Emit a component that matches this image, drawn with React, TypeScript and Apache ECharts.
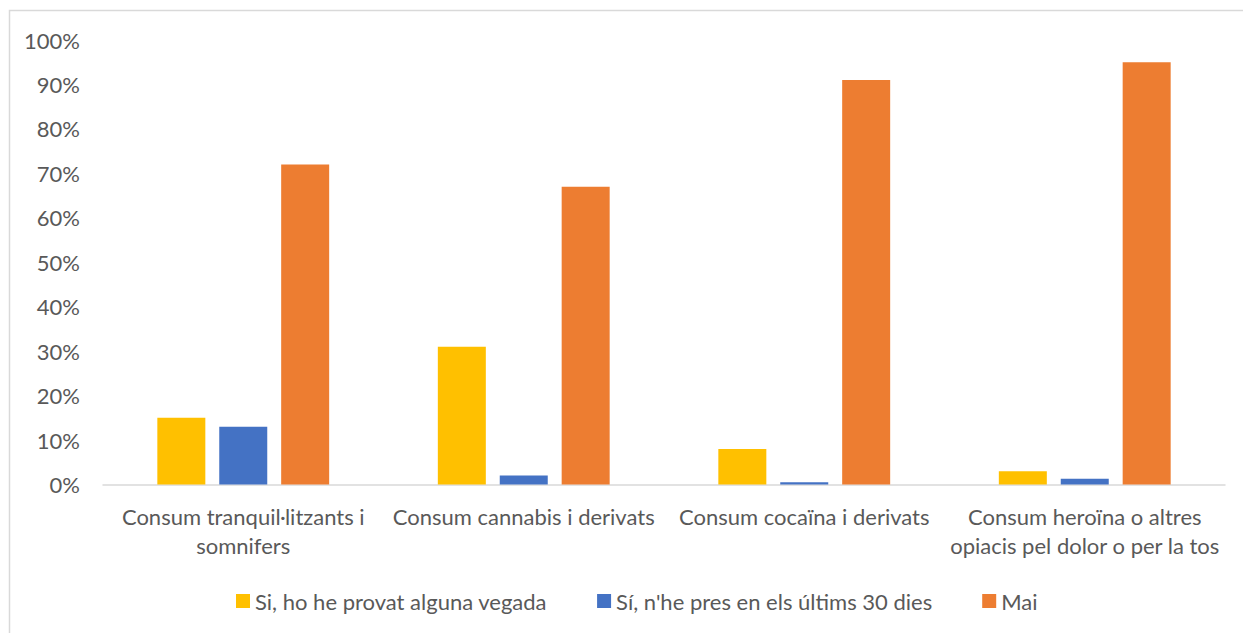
import React, { useEffect, useRef } from "react";
import * as echarts from "echarts";

const categories = [
  "Consum tranquil·litzants i\nsomnifers",
  "Consum cannabis i derivats",
  "Consum cocaïna i derivats",
  "Consum heroïna o altres\nopiacis pel dolor o per la tos",
];
const seriesNames = ["Si, ho he provat alguna vegada", "Sí, n'he pres en els últims 30 dies", "Mai"];
const provatValues = [15, 31, 8, 3];
const ultims30Values = [13, 2, 0.5, 1.3];
const maiValues = [72, 67, 91, 95];
const colors = ["#FFC000", "#4472C4", "#ED7D31"];

const FONT = "Lato";
const TEXT = "#595959";

export default function App() {
  const ref = useRef<HTMLDivElement>(null);
  useEffect(() => {
    if (!ref.current) return;
    const chart = echarts.init(ref.current, null, { renderer: "svg" });
    const values = [provatValues, ultims30Values, maiValues];
    chart.setOption({
      animation: false,
      textStyle: { fontFamily: FONT },
      graphic: [
        {
          type: "rect",
          shape: { x: 9.5, y: 10.5, width: 1300, height: 700 },
          style: { fill: "none", stroke: "#D9D9D9", lineWidth: 1.5 },
          silent: true,
        },
      ],
      legend: {
        left: 236,
        top: 590,
        padding: 0,
        itemWidth: 14,
        itemHeight: 14,
        itemGap: 50,
        icon: "rect",
        textStyle: { color: TEXT, fontSize: 22, fontFamily: FONT },
        data: seriesNames,
      },
      grid: { left: 103, right: 18, top: 40, bottom: 148.5, containLabel: false },
      xAxis: {
        type: "category",
        data: categories,
        axisLine: { show: true, lineStyle: { color: "#D9D9D9", width: 1.5 } },
        axisTick: { show: false },
        axisLabel: {
          color: TEXT,
          fontSize: 22,
          fontFamily: FONT,
          margin: 17,
          lineHeight: 29,
          interval: 0,
        },
      },
      yAxis: {
        type: "value",
        min: 0,
        max: 100,
        interval: 10,
        axisLine: { show: false },
        axisTick: { show: false },
        splitLine: { show: false },
        axisLabel: {
          color: TEXT,
          fontSize: 22,
          fontFamily: FONT,
          margin: 23,
          formatter: (v: number) => v + "%",
        },
      },
      series: seriesNames.map((name, i) => ({
        name,
        type: "bar",
        data: values[i],
        barWidth: 48,
        barGap: "29%",
        itemStyle: { color: colors[i] },
      })),
    });
    return () => chart.dispose();
  }, []);
  return (
    <div
      ref={ref}
      style={{ position: "fixed", left: 0, top: 0, width: 1243, height: 633, background: "#fff" }}
    />
  );
}
